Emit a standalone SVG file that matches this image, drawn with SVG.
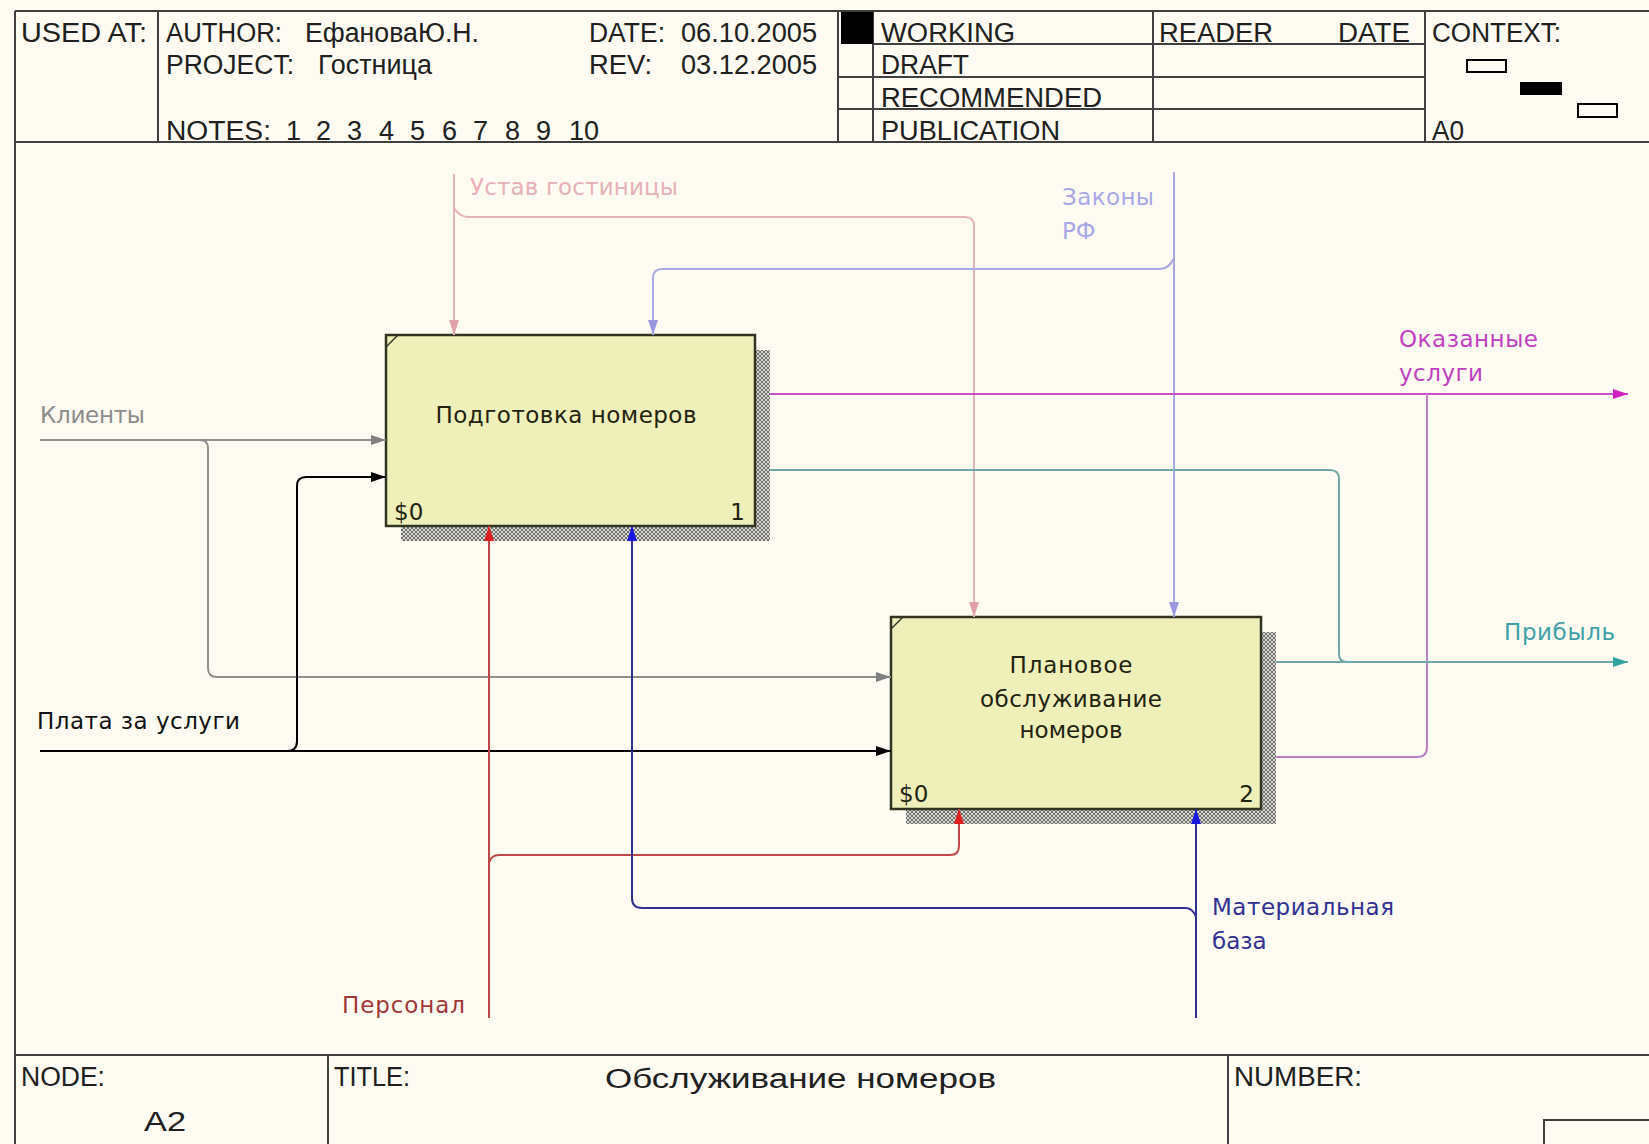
<svg xmlns="http://www.w3.org/2000/svg" width="1649" height="1144" viewBox="0 0 1649 1144">
<style>
.frame{fill:none;stroke:#404040;stroke-width:2}
.ht{font-family:"Liberation Sans",Arial,sans-serif;font-size:27px;fill:#202020}
.box{fill:#efefba;stroke:#333322;stroke-width:2.5}
.bt{font-family:"DejaVu Sans",sans-serif;font-size:23px;fill:#222211;text-anchor:middle}
.bn{font-family:"DejaVu Sans",sans-serif;font-size:23px;fill:#222211}
.lb{font-family:"DejaVu Sans",sans-serif;font-size:23px}
.c{fill:none;stroke-width:2}
</style>
<defs>
<pattern id="hatch" width="4" height="4" patternUnits="userSpaceOnUse">
<rect width="4" height="4" fill="#d8d8d0"/>
<path d="M0,0 L4,4 M4,0 L0,4" stroke="#707070" stroke-width="1"/>
</pattern>
<marker id="aGray" markerUnits="userSpaceOnUse" markerWidth="15" markerHeight="10" refX="15" refY="5" orient="auto"><path d="M0,0 L15,5 L0,10 z" fill="#808080"/></marker>
<marker id="aBlack" markerUnits="userSpaceOnUse" markerWidth="15" markerHeight="10" refX="15" refY="5" orient="auto"><path d="M0,0 L15,5 L0,10 z" fill="#000"/></marker>
<marker id="aPink" markerUnits="userSpaceOnUse" markerWidth="15" markerHeight="10" refX="15" refY="5" orient="auto"><path d="M0,0 L15,5 L0,10 z" fill="#e0a0aa"/></marker>
<marker id="aLav" markerUnits="userSpaceOnUse" markerWidth="15" markerHeight="10" refX="15" refY="5" orient="auto"><path d="M0,0 L15,5 L0,10 z" fill="#9898e0"/></marker>
<marker id="aMag" markerUnits="userSpaceOnUse" markerWidth="15" markerHeight="10" refX="15" refY="5" orient="auto"><path d="M0,0 L15,5 L0,10 z" fill="#d020c0"/></marker>
<marker id="aTeal" markerUnits="userSpaceOnUse" markerWidth="15" markerHeight="10" refX="15" refY="5" orient="auto"><path d="M0,0 L15,5 L0,10 z" fill="#30a0a0"/></marker>
<marker id="aRed" markerUnits="userSpaceOnUse" markerWidth="15" markerHeight="10" refX="15" refY="5" orient="auto"><path d="M0,0 L15,5 L0,10 z" fill="#e02020"/></marker>
<marker id="aBlue" markerUnits="userSpaceOnUse" markerWidth="15" markerHeight="10" refX="15" refY="5" orient="auto"><path d="M0,0 L15,5 L0,10 z" fill="#1818e0"/></marker>
</defs>
<rect width="1649" height="1144" fill="#fefcf2"/>

<g id="frame">
<path class="frame" d="M15,11 H1649 M15,11 V1144 M15,142 H1649 M158,11 V142 M838,11 V142 M873,11 V142 M1153,11 V142 M1425,11 V142 M873,44 H1425 M838,77 H1425 M838,109 H1425 M15,1055 H1649 M328,1055 V1144 M1228,1055 V1144 M1544,1144 V1120 H1649"/>
<rect x="841" y="12" width="32" height="32" fill="#000"/>
<rect x="1467" y="60" width="39" height="12" fill="none" stroke="#000" stroke-width="2"/>
<rect x="1520" y="82" width="42" height="13" fill="#000"/>
<rect x="1578" y="104" width="39" height="13" fill="none" stroke="#000" stroke-width="2"/>
<text class="ht" x="21" y="42" textLength="126" lengthAdjust="spacingAndGlyphs">USED AT:</text>
<text class="ht" x="166" y="42" textLength="116" lengthAdjust="spacingAndGlyphs">AUTHOR:</text>
<text class="ht" x="305" y="42" textLength="174" lengthAdjust="spacingAndGlyphs">ЕфановаЮ.Н.</text>
<text class="ht" x="166" y="74" textLength="128" lengthAdjust="spacingAndGlyphs">PROJECT:</text>
<text class="ht" x="318" y="74" textLength="114" lengthAdjust="spacingAndGlyphs">Гостница</text>
<text class="ht" x="166" y="140" textLength="105" lengthAdjust="spacingAndGlyphs">NOTES:</text>
<text class="ht" y="140"><tspan x="286">1</tspan> <tspan x="316">2</tspan> <tspan x="347">3</tspan> <tspan x="379">4</tspan> <tspan x="410">5</tspan> <tspan x="442">6</tspan> <tspan x="473">7</tspan> <tspan x="505">8</tspan> <tspan x="536">9</tspan> <tspan x="569">10</tspan></text>
<text class="ht" x="589" y="42" textLength="76" lengthAdjust="spacingAndGlyphs">DATE:</text>
<text class="ht" x="681" y="42" textLength="136" lengthAdjust="spacingAndGlyphs">06.10.2005</text>
<text class="ht" x="589" y="74" textLength="63" lengthAdjust="spacingAndGlyphs">REV:</text>
<text class="ht" x="681" y="74" textLength="136" lengthAdjust="spacingAndGlyphs">03.12.2005</text>
<text class="ht" x="881" y="42" textLength="134" lengthAdjust="spacingAndGlyphs">WORKING</text>
<text class="ht" x="881" y="74" textLength="88" lengthAdjust="spacingAndGlyphs">DRAFT</text>
<text class="ht" x="881" y="107" textLength="221" lengthAdjust="spacingAndGlyphs">RECOMMENDED</text>
<text class="ht" x="881" y="140" textLength="179" lengthAdjust="spacingAndGlyphs">PUBLICATION</text>
<text class="ht" x="1159" y="42" textLength="114" lengthAdjust="spacingAndGlyphs">READER</text>
<text class="ht" x="1338" y="42" textLength="72" lengthAdjust="spacingAndGlyphs">DATE</text>
<text class="ht" x="1432" y="42" textLength="129" lengthAdjust="spacingAndGlyphs">CONTEXT:</text>
<text class="ht" x="1432" y="140" textLength="32" lengthAdjust="spacingAndGlyphs">A0</text>
<text class="ht" x="21" y="1086" textLength="84" lengthAdjust="spacingAndGlyphs">NODE:</text>
<text class="ht" x="144" y="1131" font-size="34" textLength="42" lengthAdjust="spacingAndGlyphs">A2</text>
<text class="ht" x="334" y="1086" textLength="76" lengthAdjust="spacingAndGlyphs">TITLE:</text>
<text class="ht" x="605" y="1088" font-size="34" textLength="391" lengthAdjust="spacingAndGlyphs">Обслуживание номеров</text>
<text class="ht" x="1234" y="1086" textLength="128" lengthAdjust="spacingAndGlyphs">NUMBER:</text>
</g>

<g id="node-A21">
<rect x="755" y="350" width="15" height="191" fill="url(#hatch)"/>
<rect x="401" y="526" width="369" height="15" fill="url(#hatch)"/>
<rect class="box" x="386" y="335" width="369" height="191"/>
<path d="M386,347 L398,335" stroke="#333322" stroke-width="1.5"/>
<text class="bt" x="566" y="423" textLength="261">Подготовка номеров</text>
<text class="bn" x="394" y="520">$0</text>
<text class="bn" x="745" y="520" text-anchor="end">1</text>
</g>

<g id="node-A22">
<rect x="1261" y="632" width="15" height="192" fill="url(#hatch)"/>
<rect x="906" y="809" width="370" height="15" fill="url(#hatch)"/>
<rect class="box" x="891" y="617" width="370" height="192"/>
<path d="M891,629 L903,617" stroke="#333322" stroke-width="1.5"/>
<text class="bt" x="1071" y="673" textLength="123">Плановое</text>
<text class="bt" x="1071" y="707" textLength="182">обслуживание</text>
<text class="bt" x="1071" y="738" textLength="103">номеров</text>
<text class="bn" x="899" y="802">$0</text>
<text class="bn" x="1254" y="802" text-anchor="end">2</text>
</g>

<g id="connectors">
<path class="c" stroke="#909090" d="M40,440 H386" marker-end="url(#aGray)"/>
<path class="c" stroke="#909090" d="M200,440 Q208,440 208,448 V668 Q208,677 217,677 H891" marker-end="url(#aGray)"/>
<path class="c" stroke="#000" d="M40,751 H891" marker-end="url(#aBlack)"/>
<path class="c" stroke="#000" d="M287,751 Q297,751 297,741 V486 Q297,477 306,477 H386" marker-end="url(#aBlack)"/>
<path class="c" stroke="#e8b4bc" d="M454,174 V335" marker-end="url(#aPink)"/>
<path class="c" stroke="#e8b4bc" d="M454,208 Q460,217 468,217 H965 Q974,217 974,226 V617" marker-end="url(#aPink)"/>
<path class="c" stroke="#aaaae2" d="M1174,172 V617" marker-end="url(#aLav)"/>
<path class="c" stroke="#aaaae2" d="M1174,258 Q1169,269 1160,269 H662 Q653,269 653,278 V335" marker-end="url(#aLav)"/>
<path class="c" stroke="#c850c8" d="M770,394 H1628" marker-end="url(#aMag)"/>
<path class="c" stroke="#c080c8" d="M1276,757 H1417 Q1427,757 1427,747 V394"/>
<path class="c" stroke="#70a8a8" d="M770,470 H1330 Q1339,470 1339,479 V654 Q1339,662 1347,662"/>
<path class="c" stroke="#70a8a8" d="M1276,662 H1628" marker-end="url(#aTeal)"/>
<path class="c" stroke="#c04848" d="M489,1018 V526" marker-end="url(#aRed)"/>
<path class="c" stroke="#c04848" d="M489,863 Q491,855 499,855 H950 Q959,855 959,846 V809" marker-end="url(#aRed)"/>
<path class="c" stroke="#303090" d="M1196,1018 V809" marker-end="url(#aBlue)"/>
<path class="c" stroke="#303090" d="M1196,917 Q1193,908 1185,908 H642 Q632,908 632,898 V526" marker-end="url(#aBlue)"/>
</g>

<g id="labels">
<text class="lb" x="40" y="423" fill="#8c8c8c" textLength="105">Клиенты</text>
<text class="lb" x="37" y="729" fill="#111" textLength="203">Плата за услуги</text>
<text class="lb" x="470" y="195" fill="#e8b0b8" textLength="208">Устав гостиницы</text>
<text class="lb" x="1062" y="205" fill="#a8a8e8" textLength="92">Законы</text>
<text class="lb" x="1062" y="239" fill="#a8a8e8">РФ</text>
<text class="lb" x="1399" y="347" fill="#c040c0" textLength="139">Оказанные</text>
<text class="lb" x="1399" y="381" fill="#c040c0" textLength="84">услуги</text>
<text class="lb" x="1504" y="640" fill="#40a0a8" textLength="111">Прибыль</text>
<text class="lb" x="342" y="1013" fill="#a03838" textLength="123">Персонал</text>
<text class="lb" x="1212" y="915" fill="#303090" textLength="182">Материальная</text>
<text class="lb" x="1212" y="949" fill="#303090">база</text>
</g>
</svg>
